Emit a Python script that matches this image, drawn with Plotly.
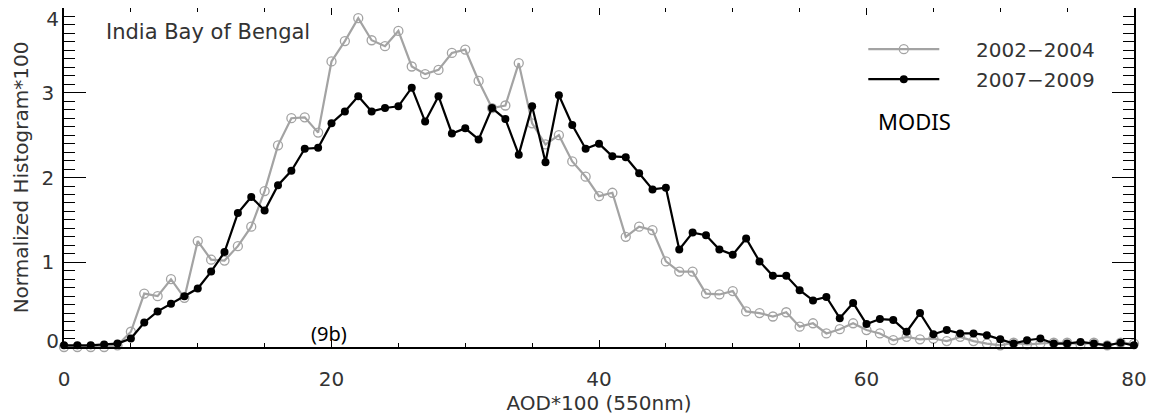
import plotly.graph_objects as go

aod = list(range(0, 81))

hist_2002_2004 = [0.0, 0.0, 0.0, 0.0, 0.02, 0.18, 0.63, 0.60, 0.80, 0.58,
                  1.25, 1.03, 1.02, 1.19, 1.42, 1.84, 2.38, 2.70, 2.71, 2.53,
                  3.37, 3.61, 3.88, 3.62, 3.55, 3.73, 3.31, 3.22, 3.27, 3.47,
                  3.51, 3.14, 2.82, 2.85, 3.35, 2.64, 2.39, 2.50, 2.19, 2.01,
                  1.78, 1.82, 1.30, 1.42, 1.38, 1.01, 0.89, 0.89, 0.63, 0.62,
                  0.66, 0.42, 0.40, 0.36, 0.41, 0.24, 0.28, 0.16, 0.21, 0.28,
                  0.20, 0.16, 0.08, 0.12, 0.09, 0.10, 0.07, 0.12, 0.07, 0.04,
                  0.02, 0.05, 0.03, 0.04, 0.05, 0.05, 0.03, 0.05, 0.02, 0.05,
                  0.04]

hist_2007_2009 = [0.02, 0.02, 0.02, 0.03, 0.04, 0.10, 0.29, 0.42, 0.51, 0.60,
                  0.69, 0.89, 1.12, 1.58, 1.77, 1.61, 1.91, 2.08, 2.34, 2.35,
                  2.64, 2.78, 2.96, 2.78, 2.82, 2.84, 3.06, 2.66, 2.96, 2.52,
                  2.58, 2.45, 2.82, 2.69, 2.27, 2.84, 2.18, 2.97, 2.62, 2.34,
                  2.40, 2.25, 2.24, 2.05, 1.86, 1.88, 1.15, 1.35, 1.32, 1.15,
                  1.09, 1.28, 1.01, 0.84, 0.84, 0.67, 0.55, 0.59, 0.34, 0.52,
                  0.27, 0.33, 0.32, 0.18, 0.40, 0.15, 0.20, 0.16, 0.16, 0.14,
                  0.09, 0.04, 0.08, 0.10, 0.04, 0.04, 0.06, 0.04, 0.02, 0.05,
                  0.02]

series_names = ["2002\u22122004", "2007\u22122009"]
x_tick_step = 20
y_tick_step = 1
y_range = [0, 4.0005]
y_bottom_label = 0
y_top_label = 4

FONT = "DejaVu Sans"
TXT = "#333333"
PAD = "\u00a0" * 5

fig = go.Figure()
fig.add_trace(go.Scatter(
    x=aod, y=hist_2002_2004, mode="lines+markers", name=PAD + series_names[0],
    legendgroup="a", cliponaxis=False,
    line=dict(color="#a3a3a3", width=2.2),
    marker=dict(symbol="circle-open", size=9, color="#a3a3a3",
                line=dict(width=1.3, color="#a3a3a3")),
))
fig.add_trace(go.Scatter(
    x=aod, y=hist_2007_2009, mode="lines+markers", name=PAD + series_names[1],
    legendgroup="b", cliponaxis=False,
    line=dict(color="#000000", width=2.2),
    marker=dict(symbol="circle", size=8, color="#000000"),
))
# empty traces so that the two end-label axes are drawn
for ax_name in ("y2", "y3"):
    fig.add_trace(go.Scatter(x=[], y=[], yaxis=ax_name, mode="lines",
                             showlegend=False, hoverinfo="skip"))

fig.add_annotation(x=3, y=3.72, xref="x", yref="y", text="India Bay of Bengal",
                   showarrow=False, xanchor="left", yanchor="middle",
                   font=dict(family=FONT, size=21, color=TXT))
fig.add_annotation(x=19.8, y=0.16, xref="x", yref="y", text="(9b)",
                   showarrow=False, xanchor="center", yanchor="middle",
                   font=dict(family="Noto Sans", size=20, color="#000000"))
fig.add_annotation(x=63.6, y=2.67, xref="x", yref="y", text="MODIS",
                   showarrow=False, xanchor="center", yanchor="middle",
                   font=dict(family="Noto Sans", size=22, color="#000000"))

tick_font = dict(family=FONT, size=20, color=TXT)
axis_common = dict(showgrid=False, zeroline=False, showline=True,
                   linecolor="#000000", linewidth=1.5, mirror="ticks",
                   ticks="inside", tickcolor="#000000", tickwidth=1.3,
                   automargin=False, tickmode="linear", tick0=0,
                   tickfont=tick_font)

fig.update_layout(
    xaxis=dict(range=[0, 80], dtick=x_tick_step, ticklen=7,
               minor=dict(dtick=5, ticklen=4, ticks="inside",
                          tickcolor="#000000", tickwidth=1.2),
               ticklabelstandoff=13,
               title=dict(text="AOD*100 (550nm)", standoff=2,
                          font=dict(family=FONT, size=20, color=TXT)),
               **axis_common),
    yaxis=dict(range=y_range, dtick=y_tick_step, ticklen=22,
               minor=dict(dtick=0.1, ticklen=11, ticks="inside",
                          tickcolor="#000000", tickwidth=1.2),
               ticklabelstandoff=4,
               labelalias={str(y_bottom_label): "", str(y_top_label): ""},
               title=dict(text="Normalized Histogram*100", standoff=8,
                          font=dict(family=FONT, size=20, color=TXT)),
               **axis_common),
)

# end labels of the y axis, nudged inside the frame as in the original
end_axis = dict(overlaying="y", anchor="x", side="left", range=y_range,
                showgrid=False, zeroline=False, showline=False, ticks="",
                automargin=False, tickmode="array", tickfont=tick_font,
                ticklabelstandoff=4, ticklabeloverflow="allow")

fig.update_layout(
    yaxis2=dict(tickvals=[y_top_label], ticktext=[str(y_top_label)],
                ticklabelshift=11, **end_axis),
    yaxis3=dict(tickvals=[y_bottom_label], ticktext=[str(y_bottom_label)],
                ticklabelshift=-6, **end_axis),
    width=1159, height=418,
    margin=dict(l=56, r=33, t=0, b=79, autoexpand=False),
    paper_bgcolor="white", plot_bgcolor="white",
    showlegend=True,
    legend=dict(x=0.747, y=0.936, xanchor="left", yanchor="top",
                bgcolor="rgba(0,0,0,0)", borderwidth=0,
                itemwidth=71, tracegroupgap=1, traceorder="grouped",
                font=dict(family=FONT, size=20, color=TXT)),
)

fig.write_html("out.html")
